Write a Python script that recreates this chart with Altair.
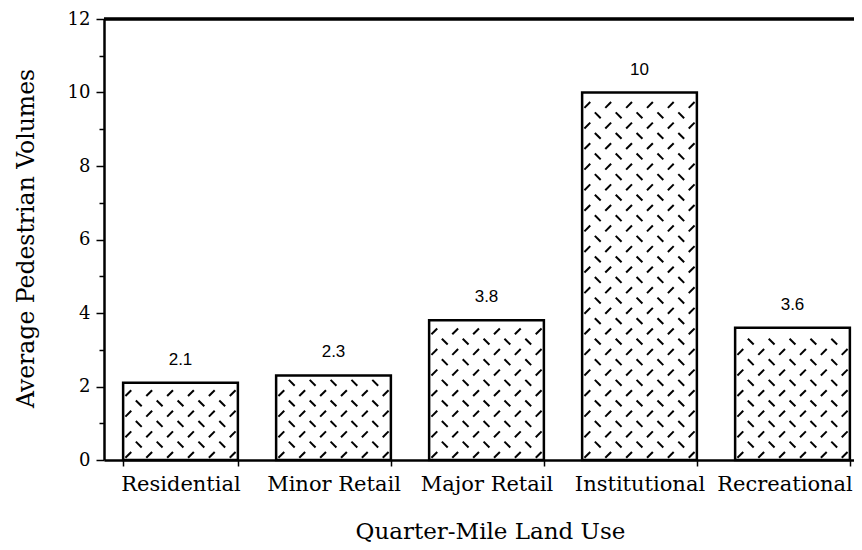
import altair as alt
import pandas as pd

# ---- data ----
categories = ["Residential", "Minor Retail", "Major Retail", "Institutional", "Recreational"]
volumes = [2.1, 2.3, 3.8, 10, 3.6]
y_ticks = list(range(0, 13))
y_max = 12

df = pd.DataFrame({"use": categories, "vol": volumes,
                   "idx": list(range(len(categories)))})

SERIF = "DejaVu Serif"
SANS = "Liberation Sans"

# ---- layout ----
W, H = 750, 441          # plot area (the reference's category axis runs past the right edge)
STEP = 153               # category step in px
PAD_IN = 0.25
FIRST = 0.125            # offset of first bar from the axis, in steps
n = len(categories)
span = W / STEP
extra = span - (n - PAD_IN)
PAD_OUT = extra / 2
ALIGN = FIRST / extra

N_COLS = 11      # hatch sub-columns per bar
ROW = 0.28       # hatch row spacing in data units

x_axis = alt.Axis(
    title="Quarter-Mile Land Use",
    labelFont=SERIF, labelFontSize=21, labelColor="black", labelAngle=0,
    labelBaseline="alphabetic", labelPadding=24,
    labelOffset={"condition": {"test": f"datum.value == '{categories[-1]}'", "value": -8},
                 "value": 0},
    tickBand="extent", tickSize=6, tickWidth=1.5, tickColor="black",
    domainColor="black", domainWidth=2.5, grid=False,
    titleFont=SERIF, titleFontSize=23, titleFontWeight="normal", titleColor="black",
    titleX=386, titleY=78, titleAlign="center", titleBaseline="alphabetic",
)
x_enc = alt.X("use:N", sort=categories,
              scale=alt.Scale(paddingInner=PAD_IN, paddingOuter=PAD_OUT, align=ALIGN),
              axis=x_axis)

y_axis = alt.Axis(
    title="Average Pedestrian Volumes",
    values=y_ticks,
    labelExpr="datum.value % 2 == 0 ? datum.label : ''",
    labelFont=SERIF, labelFontSize=18, labelColor="black", labelPadding=6,
    tickSize={"condition": {"test": "datum.value % 2 == 0", "value": 8}, "value": 5},
    tickWidth=1.5, tickColor="black",
    domainColor="black", domainWidth=2.5, grid=False,
    titleFont=SERIF, titleFontSize=23.5, titleFontWeight="normal", titleColor="black",
    titleX=-71, titleY=219, titleAngle=-90, titleAlign="center", titleBaseline="alphabetic",
)
y_scale = alt.Scale(domain=[0, y_max], nice=False)

base = alt.Chart(df)

bars = base.mark_bar(fill="white", stroke="black", strokeWidth=2.5).encode(
    x=x_enc,
    y=alt.Y("vol:Q", scale=y_scale, axis=y_axis),
)

labels = base.mark_text(font=SANS, fontSize=17, dy=-18, baseline="alphabetic",
                        color="black").encode(
    x=x_enc,
    y=alt.Y("vol:Q", scale=y_scale, axis=y_axis),
    text=alt.Text("vol:Q"),
)

top_line = base.mark_rule(color="black", strokeWidth=2.5).encode(
    y=alt.Y(datum=y_max, type="quantitative", scale=y_scale, axis=y_axis),
)

main = alt.layer(bars, labels, top_line)

# hatch texture inside each bar (decoration derived from each bar's value)
pattern = (
    base.transform_calculate(
        rows=f"sequence(0, floor(datum.vol / {ROW}))",
        cols=f"sequence(0, {N_COLS})",
    )
    .transform_flatten(["rows"], as_=["r"])
    .transform_flatten(["cols"], as_=["c"])
    .transform_filter("datum.r % 2 == datum.c % 2")
    .transform_calculate(
        yy=f"{ROW / 2} + datum.r * {ROW}",
        xx=f"datum.idx + {FIRST} + (datum.c + 0.5) / {N_COLS} * {1 - PAD_IN}",
        kind="datum.r % 2 == 0 ? 'slash' : 'back'",
    )
    .mark_point(filled=False, color="black", strokeWidth=2, size=34, opacity=1)
    .encode(
        x=alt.X("xx:Q", scale=alt.Scale(domain=[0, span], nice=False, zero=False),
                axis=None),
        y=alt.Y("yy:Q", scale=y_scale, axis=y_axis),
        shape=alt.Shape("kind:N",
                        scale=alt.Scale(domain=["slash", "back"],
                                        range=["M-1,1L1,-1", "M-1,-1L1,1"]),
                        legend=None),
    )
)

chart = (
    alt.layer(main, pattern)
    .resolve_scale(x="independent")
    .resolve_axis(x="independent")
    .properties(
        width=W, height=H,
        padding={"left": 96, "top": 11, "right": 0, "bottom": 82},
        autosize=alt.AutoSizeParams(type="none"),
        background="white",
    )
    .configure_view(stroke=None)
)

chart.save("out.html", embed_options={"renderer": "svg", "actions": False})
